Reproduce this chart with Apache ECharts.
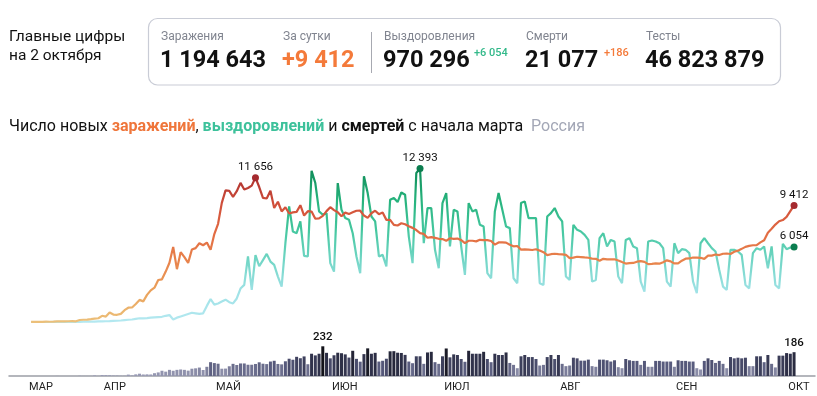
<!DOCTYPE html>
<html>
<head>
<meta charset="utf-8">
<script src="https://cdn.jsdelivr.net/npm/echarts@6/dist/echarts.min.js"></script>
<style>
html,body{margin:0;padding:0;background:#fff;}
#chart{width:817px;height:396px;}
</style>
</head>
<body>
<div id="chart"></div>
<script>
// ---------- DATA ----------
var startDate = '2020-03-12';
var monthLabels = ['МАР', 'АПР', 'МАЙ', 'ИЮН', 'ИЮЛ', 'АВГ', 'СЕН', 'ОКТ'];
var monthTickDates = ['2020-03-12', '2020-04-01', '2020-05-01', '2020-06-01', '2020-07-01', '2020-08-01', '2020-09-01', '2020-10-01'];

var infections = [
  6, 11, 14, 4, 30, 21, 33, 52, 54, 53, 61, 71, 57, 163, 182, 196, 228, 270, 302, 501,
  440, 771, 601, 582, 658, 954, 1154, 1175, 1459, 1786, 1667, 2186, 2558, 2774, 3388, 3448, 4070, 4785, 6060, 4268,
  5642, 5236, 4774, 5849, 5966, 6361, 6198, 6411, 5841, 7099,
  7933, 9623, 10633, 10581, 10102, 10559, 11231, 10699, 10817, 11012, 11656, 10899, 10028, 9974, 10598, 9200,
  9709, 8926, 9263, 8764, 8849, 8894, 9434, 8599, 8946, 8915, 8338, 8371, 8572, 8952, 9268,
  9035, 8863, 8536, 8831, 8726, 8855, 8984, 8985, 8595, 8404, 8779, 8987, 8706, 8835, 8246, 8248, 7843, 7790,
  7972, 7889, 7728, 7600, 7425, 7176, 7113, 6800, 6852, 6791, 6719, 6693,
  6556, 6760, 6718, 6736, 6611, 6368, 6562, 6562, 6509, 6635, 6611, 6615, 6537, 6248, 6422, 6428, 6406, 6234,
  6109, 6139, 5842, 5862, 5848, 5811, 5871, 5765, 5635, 5395, 5475, 5509, 5482,
  5462, 5427, 5159, 5204, 5267, 5241, 5212, 5189, 5118, 5102, 4945, 5102, 5057, 5065, 5061, 4969, 4839, 4718,
  4748, 4767, 4870, 4921, 4852, 4676, 4696, 4729, 4711, 4829, 4980, 4897, 4729,
  4729, 4952, 5110, 5130, 5205, 5195, 5185, 5099, 5363, 5363, 5449, 5406, 5509, 5529, 5488, 5670, 5762, 5905,
  6065, 6148, 6196, 6215, 6431, 6595, 7212, 7523, 7867, 8135, 8232, 8481,
  8945, 9412
];

var recoveries = [
  0, 0, 0, 0, 0, 2, 3, 3, 5, 5, 8, 5, 10, 15, 20, 25, 30, 35, 45, 55,
  60, 70, 90, 100, 120, 150, 180, 200, 250, 300,
  300, 320, 350, 380, 400, 420, 500, 560,
  200, 350, 450, 550, 650, 750, 700, 650, 700,
  1300, 1850, 1400, 1500, 1650, 1800, 1600, 1500, 1900, 2700, 3000, 5300, 2600, 5400, 4500, 5000, 5500,
  4880, 4610, 3670, 2860, 6360, 9330, 7310, 7170, 8120, 5340, 5290, 12200, 11220, 8930, 8660, 8790, 4750,
  4070, 11220, 9060, 8390, 8250, 7170, 5290, 3940, 11760, 10410, 8520, 8120, 5290, 5420, 4480, 9870, 10010,
  9680, 10460, 10280, 6900, 4750, 12030, 12393, 6360, 9200, 9200, 5830, 4340, 9600, 10410, 6100, 9060, 8930,
  6100, 3800, 9600, 8930, 9060, 7850, 7710, 3940, 3530, 8930, 10410, 9060, 7710, 7580, 3530, 3130, 9600,
  9740, 8390, 8390, 8390, 3130, 2990, 8520, 8790, 9200, 8520, 8120, 3670, 3400, 7850, 7440, 7310, 7040,
  6630, 3260, 3400, 6770, 7170, 6100, 6630, 6500, 3670, 3130, 6630, 6770, 6100, 5960, 3260, 2450, 6500,
  6580, 6500, 6360, 5960, 3260, 2860, 6360, 5560, 5880, 5830, 5560, 3260, 2320, 6360, 6770, 6360, 5960,
  5690, 4200, 2860, 2590, 5830, 5830, 5690, 5420, 2990, 2720, 5560, 5960, 5830, 6100, 4340, 6100, 2990,
  2720, 6310, 5880, 6010, 6054
];

var deaths = [
  0, 0, 0, 0, 0, 0, 0, 1, 0, 0, 0, 0, 0,
  2, 1, 1, 1, 5, 1, 8,
  7, 6, 4, 4, 2, 2, 11, 5, 13, 18, 12, 13, 12, 22, 28, 41, 34, 48, 41, 48,
  51, 48, 42, 57, 60, 66, 47, 72, 108, 101,
  96, 57, 58, 76, 95, 86, 98, 98, 88, 88, 94, 107, 96, 93, 113, 119, 94, 91, 115, 135,
  127, 150, 139, 153, 92, 174, 161, 174, 232, 181, 138,
  162, 182, 178, 169, 144, 197, 134, 112, 171, 216, 174, 181, 113, 119, 135, 193, 194, 182,
  180, 165, 113, 100, 154, 154, 95, 184, 189, 108, 95, 154,
  215, 146, 169, 164, 133, 111, 197, 174, 174, 174, 189, 133, 108, 174, 164, 164, 184, 102,
  87, 61, 154, 164, 148, 148, 133, 82, 87, 148, 164, 133, 164,
  95, 77, 82, 143, 138, 120, 120, 128, 77, 72, 128, 128, 123, 113, 123, 69, 61, 133,
  123, 118, 118, 87, 118, 72, 72, 118, 118, 113, 113, 113, 72,
  123, 118, 118, 113, 113, 61, 51, 118, 138, 125, 102, 118, 95, 61, 148, 138, 143, 138,
  143, 77, 77, 154, 154, 108, 164, 95, 67, 159, 159, 179,
  174, 186
];

var summaryLabels = ['Заражения', 'За сутки', 'Выздоровления', 'Смерти', 'Тесты'];
var summaryValues = ['1 194 643', '+9 412', '970 296', '21 077', '46 823 879'];
var summaryDeltas = ['', '', '+6 054', '+186', ''];

// ---------- HELPERS ----------
var DAY = 86400000;
function ts(s) { var p = s.split('-'); return Date.UTC(+p[0], +p[1] - 1, +p[2]); }
var t0 = ts(startDate);
var dates = infections.map(function (_, i) { return t0 + i * DAY; });
function fmt(n) { return String(n).replace(/\B(?=(\d{3})+(?!\d))/g, ' '); }
function argmax(a) { var m = 0; for (var i = 1; i < a.length; i++) if (a[i] > a[m]) m = i; return m; }

var apr1 = ts('2020-04-01');
var xMin = apr1 - 25.9 * DAY;
var xMax = apr1 + 189.6 * DAY;
var tickVals = monthTickDates.map(ts);

var infData = dates.map(function (d, i) { return [d, infections[i]]; });
var recData = dates.map(function (d, i) { return [d, recoveries[i]]; });
var last = dates.length - 1;
var iInfMax = argmax(infections), iRecMax = argmax(recoveries), iDeathMax = argmax(deaths);

var FONT = 'Roboto';
var deathData = dates.map(function (d, i) {
  var item = { value: [d, deaths[i]] };
  if (i === iDeathMax || i === last) {
    item.label = { show: true, position: 'top', distance: 3, formatter: fmt(deaths[i]),
      color: '#111', fontSize: 11.5, fontFamily: FONT, fontWeight: 500 };
  }
  return item;
});

var mpLabel = { show: true, position: 'top', distance: 1, color: '#111', fontSize: 11.5, fontFamily: FONT };

// ---------- HEADER GRAPHICS ----------
var graphics = [
  { type: 'text', x: 9, y: 37, style: { text: 'Главные цифры', fill: '#111', font: '15.5px ' + FONT, verticalAlign: 'middle' } },
  { type: 'text', x: 9, y: 56, style: { text: 'на 2 октября', fill: '#111', font: '15.5px ' + FONT, verticalAlign: 'middle' } },
  { type: 'rect', shape: { x: 148.5, y: 18.5, width: 632, height: 66.5, r: 9 }, style: { fill: 'none', stroke: '#c9ccd6', lineWidth: 1.2 } },
  { type: 'line', shape: { x1: 371.5, y1: 32, x2: 371.5, y2: 73 }, style: { stroke: '#a7a9b1', lineWidth: 1 } }
];
var colX = [161, 283, 384, 526, 646];
var deltaX = [0, 0, 474, 604, 0];
var valColors = ['#111', '#f47a3a', '#111', '#111', '#111'];
var deltaColors = ['', '', '#33b98a', '#f47a3a', ''];
summaryLabels.forEach(function (lab, i) {
  graphics.push({ type: 'text', x: colX[i], y: 37, style: { text: lab, fill: '#80848f', font: '12px ' + FONT, verticalAlign: 'middle' } });
  graphics.push({ type: 'text', x: colX[i] - 1, y: 61, style: { text: summaryValues[i], fill: valColors[i], font: 'bold 23.5px ' + FONT, verticalAlign: 'middle' } });
  if (summaryDeltas[i]) {
    graphics.push({ type: 'text', x: deltaX[i], y: 53, style: { text: summaryDeltas[i], fill: deltaColors[i], font: '500 11px ' + FONT, verticalAlign: 'middle' } });
  }
});

// ---------- CHART ----------
var chart = echarts.init(document.getElementById('chart'), null, { renderer: 'canvas' });
var TS = 16;
chart.setOption({
  animation: false,
  backgroundColor: '#fff',
  title: {
    left: 9, top: 119, padding: 0,
    text: '{n|Число новых }{o|заражений}{n|, }{g|выздоровлений}{n| и }{b|смертей}{n| с начала марта  }{r|Россия}',
    textStyle: {
      fontWeight: 'normal',
      rich: {
        n: { fontSize: TS, fontFamily: FONT, color: '#111', fontWeight: 'normal' },
        o: { fontSize: TS, fontFamily: FONT, color: '#ef763b', fontWeight: 'bold' },
        g: { fontSize: TS, fontFamily: FONT, color: '#3dc19b', fontWeight: 'bold' },
        b: { fontSize: TS, fontFamily: FONT, color: '#111', fontWeight: 'bold' },
        r: { fontSize: TS, fontFamily: FONT, color: '#a3a7b6', fontWeight: 'normal' }
      }
    }
  },
  graphic: graphics,
  grid: [
    { left: 9, right: 2, top: 161, bottom: 74 },
    { left: 9, right: 2, top: 344, bottom: 20 }
  ],
  xAxis: [
    { type: 'value', gridIndex: 0, min: xMin, max: xMax, show: false },
    {
      type: 'value', gridIndex: 1, min: xMin, max: xMax,
      axisLine: { show: true, onZero: false, lineStyle: { color: '#9c9ea6', width: 1.5 } },
      axisTick: { show: false },
      splitLine: { show: false },
      axisLabel: {
        customValues: tickVals,
        showMinLabel: true,
        showMaxLabel: true,
        align: 'left',
        margin: 6,
        padding: [0, 0, 0, -2],
        color: '#222',
        fontSize: 11,
        fontFamily: FONT,
        formatter: function (v) {
          var idx = tickVals.indexOf(v);
          return idx >= 0 ? monthLabels[idx] : '';
        }
      }
    }
  ],
  yAxis: [
    { type: 'value', gridIndex: 0, min: 0, max: 13000, show: false },
    { type: 'value', gridIndex: 1, min: 0, max: 250, show: false }
  ],
  visualMap: [
    { show: false, type: 'continuous', seriesIndex: 0, dimension: 1, min: 0, max: 12000,
      inRange: { color: ['#ecc07a', '#eaa25c', '#e8844c', '#e26c43', '#cf4d3a', '#a82e2e'] } },
    { show: false, type: 'continuous', seriesIndex: 1, dimension: 1, min: 0, max: 12400,
      inRange: { color: ['#b4e8f0', '#9fe2e6', '#72d6c6', '#45c79f', '#26b27c', '#0e8a56'] } },
    { show: false, type: 'continuous', seriesIndex: 2, dimension: 1, min: 0, max: 235,
      inRange: { color: ['#9c9eb8', '#8c8ea9', '#55587a', '#2f3149', '#101016'] } }
  ],
  series: [
    {
      name: 'infections', type: 'line', xAxisIndex: 0, yAxisIndex: 0,
      data: infData, showSymbol: false, smooth: false,
      lineStyle: { width: 2.2 }, z: 3,
      markPoint: {
        symbol: 'circle', symbolSize: 7,
        itemStyle: { color: '#a52a2f' },
        label: mpLabel,
        data: [
          { coord: infData[iInfMax], value: fmt(infections[iInfMax]) },
          { coord: infData[last], value: fmt(infections[last]) }
        ]
      }
    },
    {
      name: 'recoveries', type: 'line', xAxisIndex: 0, yAxisIndex: 0,
      data: recData, showSymbol: false, smooth: false,
      lineStyle: { width: 2.2 }, z: 2,
      markPoint: {
        symbol: 'circle', symbolSize: 7,
        itemStyle: { color: '#0b7d4f' },
        label: mpLabel,
        data: [
          { coord: recData[iRecMax], value: fmt(recoveries[iRecMax]) },
          { coord: recData[last], value: fmt(recoveries[last]) }
        ]
      }
    },
    {
      name: 'deaths', type: 'bar', xAxisIndex: 1, yAxisIndex: 1,
      data: deathData, barWidth: 3
    }
  ]
});
</script>
</body>
</html>
